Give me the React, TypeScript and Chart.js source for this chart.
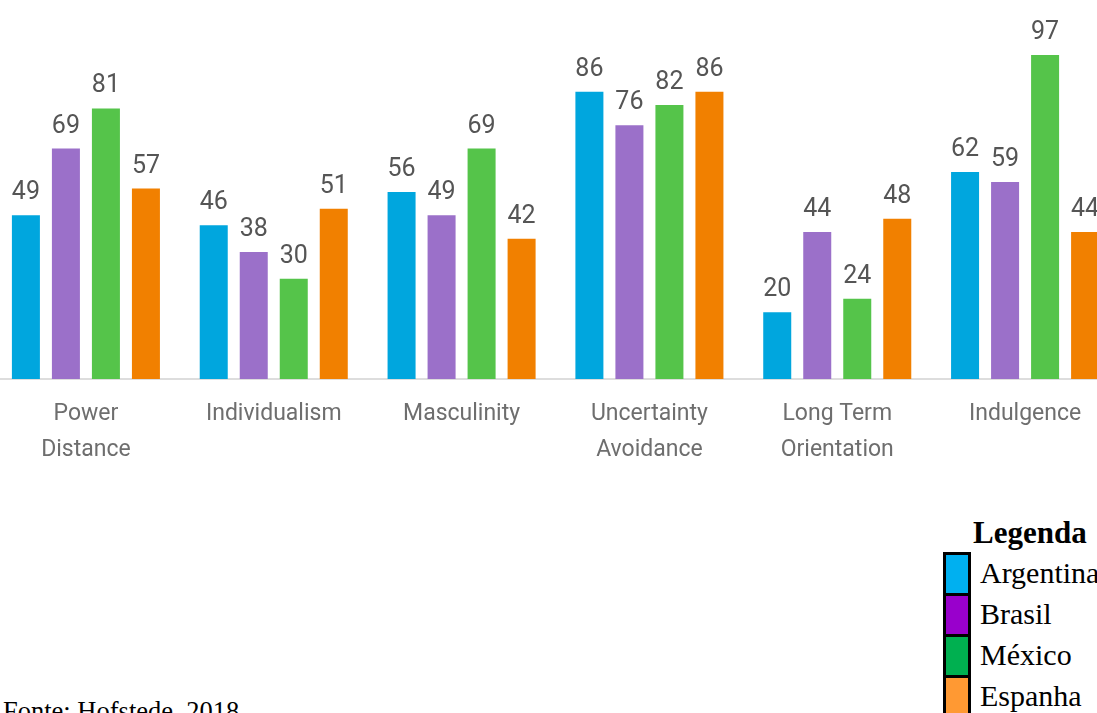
import React, { useEffect, useRef } from "react";
import { Chart, registerables } from "chart.js";

Chart.register(...registerables);

const categories: string[][] = [
  ["Power", "Distance"],
  ["Individualism"],
  ["Masculinity"],
  ["Uncertainty", "Avoidance"],
  ["Long Term", "Orientation"],
  ["Indulgence"],
];
const argentina = [49, 46, 56, 86, 20, 62];
const brasil = [69, 38, 49, 76, 44, 59];
const mexico = [81, 30, 69, 82, 24, 97];
const espanha = [57, 51, 42, 86, 48, 44];
const seriesNames = ["Argentina", "Brasil", "México", "Espanha"];
const barColors = ["#00A6DE", "#9B70C9", "#55C44A", "#F18000"];
const legendColors = ["#00B0F0", "#9900CC", "#00B050", "#FF9933"];
const legendTitle = "Legenda";
const sourceText = "Fonte: Hofstede, 2018";

const valueLabels = {
  id: "valueLabels",
  afterDatasetsDraw(chart: any) {
    const ctx = chart.ctx;
    ctx.save();
    ctx.font = "400 25px Roboto";
    ctx.fillStyle = "#555555";
    ctx.textAlign = "center";
    ctx.textBaseline = "alphabetic";
    chart.data.datasets.forEach((ds: any, i: number) => {
      const meta = chart.getDatasetMeta(i);
      meta.data.forEach((bar: any, j: number) => {
        ctx.fillText(String(ds.data[j]), bar.x, bar.y - 16);
      });
    });
    ctx.restore();
  },
};

export default function App() {
  const canvasRef = useRef<HTMLCanvasElement | null>(null);

  useEffect(() => {
    if (!canvasRef.current) return;
    const seriesData = [argentina, brasil, mexico, espanha];
    const chart = new Chart(canvasRef.current, {
      type: "bar",
      data: {
        labels: categories,
        datasets: seriesData.map((d, i) => ({
          label: seriesNames[i],
          data: d,
          backgroundColor: barColors[i],
          borderWidth: 0,
          categoryPercentage: 0.852,
          barPercentage: 0.7,
        })),
      },
      options: {
        animation: false,
        responsive: true,
        maintainAspectRatio: false,
        layout: { padding: { top: 45, left: 0, right: 0, bottom: 0 } },
        plugins: {
          legend: { display: false },
          tooltip: { enabled: false },
          title: { display: false },
        },
        scales: {
          y: { display: false, min: 0, max: 100 },
          x: {
            grid: { display: false },
            border: { display: true, color: "#dddddd", width: 2 },
            ticks: {
              color: "#6e6e6e",
              padding: 9,
              font: { family: "Roboto", size: 23, lineHeight: 36 / 23 },
              maxRotation: 0,
              autoSkip: false,
            },
            afterFit: (scale: any) => {
              scale.height = 91;
            },
          },
        },
      },
      plugins: [valueLabels],
    });
    return () => chart.destroy();
  }, []);

  return (
    <div
      style={{
        position: "fixed",
        left: 0,
        top: 0,
        width: 1097,
        height: 713,
        overflow: "hidden",
        background: "#ffffff",
      }}
    >
      <div style={{ position: "absolute", left: -8, top: 0, width: 1127, height: 470 }}>
        <canvas ref={canvasRef} />
      </div>
      <div
        style={{
          position: "absolute",
          left: 973,
          top: 512,
          fontFamily: "'Liberation Serif', 'Times New Roman', serif",
          fontWeight: "bold",
          fontSize: 31,
          lineHeight: "41px",
          whiteSpace: "nowrap",
          color: "#000",
        }}
      >
        {legendTitle}
      </div>
      {seriesNames.map((name, i) => (
        <React.Fragment key={name}>
          <div
            style={{
              position: "absolute",
              left: 943,
              top: 552 + i * 41,
              width: 28,
              height: 44,
              boxSizing: "border-box",
              border: "3px solid #000",
              background: legendColors[i],
            }}
          />
          <div
            style={{
              position: "absolute",
              left: 980,
              top: 552 + i * 41,
              fontFamily: "'Liberation Serif', 'Times New Roman', serif",
              fontSize: 30,
              lineHeight: "41px",
              whiteSpace: "nowrap",
              color: "#000",
            }}
          >
            {name}
          </div>
        </React.Fragment>
      ))}
      <div
        style={{
          position: "absolute",
          left: 3,
          top: 696,
          fontFamily: "'Liberation Serif', 'Times New Roman', serif",
          fontSize: 26.5,
          lineHeight: "30px",
          whiteSpace: "nowrap",
          color: "#000",
        }}
      >
        {sourceText}
      </div>
    </div>
  );
}
